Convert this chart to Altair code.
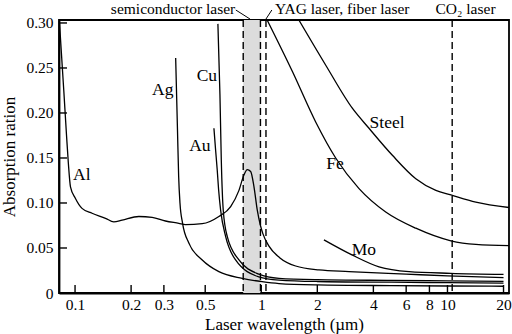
import altair as alt
import pandas as pd

# ---- data (wavelength in µm, absorption ratio) ----
al_x = [0.0825, 0.087, 0.090, 0.092, 0.0945, 0.1005, 0.109, 0.1234, 0.1457, 0.1615, 0.179, 0.22, 0.2594,
        0.306, 0.361, 0.392, 0.482, 0.592, 0.685, 0.759, 0.807, 0.841, 0.877, 0.914, 0.952, 0.99, 1.02,
        1.10, 1.26, 1.53, 2.04, 2.96, 6.0, 10.0, 20.0]
al_y = [0.300, 0.225, 0.175, 0.145, 0.118, 0.105, 0.094, 0.0886, 0.083, 0.079, 0.081, 0.085, 0.084,
        0.080, 0.0774, 0.076, 0.077, 0.085, 0.096, 0.114, 0.131, 0.137, 0.135, 0.118, 0.092, 0.075, 0.066,
        0.052, 0.039, 0.030, 0.0256, 0.0238, 0.021, 0.019, 0.017]

ag_x = [0.347, 0.355, 0.360, 0.366, 0.378, 0.409, 0.482, 0.592, 0.79, 1.01, 1.245, 2.0, 5.0, 10.0, 20.0]
ag_y = [0.261, 0.18, 0.13, 0.10, 0.0774, 0.0552, 0.0367, 0.0237, 0.0163, 0.0126, 0.0105, 0.009, 0.0082, 0.0078, 0.0075]

cu_x = [0.585, 0.600, 0.610, 0.625, 0.657, 0.759, 0.97, 1.245, 2.0, 5.0, 10.0, 20.0]
cu_y = [0.299, 0.22, 0.148, 0.092, 0.0626, 0.0367, 0.021, 0.0163, 0.0148, 0.014, 0.0135, 0.013]

au_x = [0.557, 0.568, 0.580, 0.590, 0.605, 0.644, 0.728, 0.97, 1.245, 2.0, 5.0, 10.0, 20.0]
au_y = [0.183, 0.16, 0.137, 0.115, 0.092, 0.0626, 0.0367, 0.018, 0.0144, 0.0128, 0.012, 0.0115, 0.011]

steel_x = [1.595, 2.22, 3.09, 3.79, 5.06, 6.76, 8.66, 10.43, 14.2, 21.4]
steel_y = [0.303, 0.253, 0.205, 0.183, 0.153, 0.127, 0.114, 0.109, 0.101, 0.095]

fe_x = [1.077, 1.47, 1.96, 2.51, 3.35, 4.66, 6.76, 10.43, 14.2, 21.4]
fe_y = [0.303, 0.246, 0.190, 0.150, 0.116, 0.090, 0.072, 0.058, 0.054, 0.0526]

mo_x = [2.17, 3.09, 4.29, 6.22, 10.4, 20.0]
mo_y = [0.059, 0.042, 0.029, 0.0237, 0.0219, 0.0207]

label_names = ["Al", "Ag", "Cu", "Au", "Steel", "Fe", "Mo"]
label_x = [0.1087, 0.296, 0.5105, 0.468, 4.74, 2.49, 3.56]
label_y = [0.131, 0.2256, 0.2406, 0.163, 0.189, 0.143, 0.048]

laser_lines = [0.8, 0.99, 1.06, 10.6]
band_lo, band_hi = [0.8], [0.99]

x_ticks = [0.1, 0.2, 0.3, 0.5, 1, 2, 4, 6, 8, 10, 20]
y_ticks = [0, 0.05, 0.10, 0.15, 0.20, 0.25, 0.30]

# ---- tables ----
series = {"Al": (al_x, al_y), "Ag": (ag_x, ag_y), "Cu": (cu_x, cu_y), "Au": (au_x, au_y),
          "Steel": (steel_x, steel_y), "Fe": (fe_x, fe_y), "Mo": (mo_x, mo_y)}
rows = []
for name, (xs, ys) in series.items():
    for i, (xv, yv) in enumerate(zip(xs, ys)):
        rows.append({"metal": name, "wl": xv, "ab": yv, "order": i})
df = pd.DataFrame(rows)

W, H = 450, 273
FONT = "Liberation Serif"
xscale = alt.Scale(type="log", domain=[0.082, 21.4], nice=False)
yscale = alt.Scale(domain=[0, 0.3033], nice=False, zero=False)
XT = "Laser wavelength (µm)"
YT = "Absorption ration"
xaxis = alt.Axis(values=x_ticks, format="~g", labelPadding=4, titlePadding=4)
yaxis = alt.Axis(values=y_ticks, labelExpr="datum.value == 0 ? '0' : format(datum.value, '.2f')",
                 labelPadding=6, titlePadding=7)


def X(field):
    return alt.X(field, scale=xscale, axis=xaxis, title=XT)


def Y(field):
    return alt.Y(field, scale=yscale, axis=yaxis, title=YT)


band = alt.Chart(pd.DataFrame({"a": band_lo, "b": band_hi})).mark_rect(color="#dcdcdc").encode(
    x=X("a:Q"), x2="b:Q", y=alt.value(0), y2=alt.value(H))

dashes = alt.Chart(pd.DataFrame({"wl": laser_lines})).mark_rule(
    color="black", strokeWidth=1.4, strokeDash=[7, 4]).encode(
    x=X("wl:Q"), y=alt.value(0), y2=alt.value(H))

lines = alt.Chart(df).mark_line(color="black", strokeWidth=1.3, interpolate="monotone", clip=True).encode(
    x=X("wl:Q"), y=Y("ab:Q"), detail="metal:N", order="order:Q")

xt = alt.Chart(pd.DataFrame({"wl": x_ticks})).mark_rule(color="black", strokeWidth=1.4).encode(
    x=X("wl:Q"), y=alt.value(H), y2=alt.value(H - 8))
yt = alt.Chart(pd.DataFrame({"ab": y_ticks})).mark_rule(color="black", strokeWidth=1.4).encode(
    y=Y("ab:Q"), x=alt.value(0), x2=alt.value(8))

labels = alt.Chart(pd.DataFrame({"t": label_names, "wl": label_x, "ab": label_y})).mark_text(
    font=FONT, fontSize=17.5, color="black").encode(x=X("wl:Q"), y=Y("ab:Q"), text="t:N")

top_sem = alt.Chart(pd.DataFrame({"t": ["semiconductor laser"], "wl": [0.725]})).mark_text(
    font=FONT, fontSize=15.5, color="black", align="right", baseline="middle").encode(
    x=X("wl:Q"), y=alt.value(-11), text="t:N")
top_yag = alt.Chart(pd.DataFrame({"t": ["YAG laser, fiber laser"], "wl": [1.185]})).mark_text(
    font=FONT, fontSize=15.5, color="black", align="left", baseline="middle").encode(
    x=X("wl:Q"), y=alt.value(-11), text="t:N")
top_co2 = alt.Chart(pd.DataFrame({"t": ["CO₂ laser"], "wl": [12.5]})).mark_text(
    font=FONT, fontSize=15.5, color="black", align="center", baseline="middle").encode(
    x=X("wl:Q"), y=alt.value(-11), text="t:N")

leaders = alt.Chart(pd.DataFrame({"a": [0.73, 1.14], "b": [0.87, 1.06]})).mark_rule(
    color="black", strokeWidth=1).encode(
    x=X("a:Q"), x2="b:Q", y=alt.value(-10), y2=alt.value(-1))

chart = alt.layer(band, dashes, lines, xt, yt, labels, top_sem, top_yag, top_co2, leaders).properties(
    width=W, height=H,
    autosize=alt.AutoSizeParams(type="none"),
    padding={"left": 59, "top": 20, "right": 3, "bottom": 41},
).configure_axis(
    labelFont=FONT, titleFont=FONT, labelFontSize=15.5, titleFontSize=17,
    labelColor="black", titleColor="black", titleFontWeight="normal",
    domainColor="black", domainWidth=1.8, grid=False, ticks=False,
).configure_view(stroke="black", strokeWidth=1.8)

chart.save("out.html", embed_options={"renderer": "svg", "actions": False})
